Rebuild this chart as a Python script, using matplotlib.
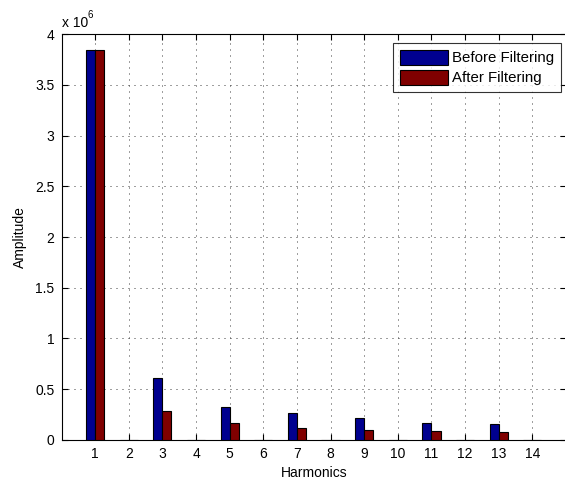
import matplotlib
matplotlib.use("Agg")
import matplotlib.pyplot as plt
import numpy as np

harmonics = [1, 2, 3, 4, 5, 6, 7, 8, 9, 10, 11, 12, 13, 14]
before = [3.85e6, 0, 0.606e6, 0, 0.326e6, 0, 0.26e6, 0, 0.21e6, 0, 0.165e6, 0, 0.152e6, 0]
after = [3.85e6, 0, 0.28e6, 0, 0.165e6, 0, 0.115e6, 0, 0.093e6, 0, 0.083e6, 0, 0.073e6, 0]
series_labels = ["Before Filtering", "After Filtering"]
yticks = [0, 0.5e6, 1e6, 1.5e6, 2e6, 2.5e6, 3e6, 3.5e6, 4e6]
ytick_labels = ["0", "0.5", "1", "1.5", "2", "2.5", "3", "3.5", "4"]

plt.rcParams['font.family'] = ['Liberation Sans', 'DejaVu Sans']

W, H = 565, 482
fig = plt.figure(figsize=(W / 100, H / 100), dpi=100)
left, right, bottom, top = 61.5, 566.0, 439.7, 34.3
ax = fig.add_axes([left / W, 1 - bottom / H, (right - left) / W, (bottom - top) / H])

x = np.array(harmonics, dtype=float)
bw = 0.27
blue = (0, 0, 0.5625)
red = (0.5, 0, 0)
ax.bar(x - bw / 2, before, width=bw, color=blue, edgecolor='black', linewidth=0.8, label=series_labels[0], zorder=3)
ax.bar(x + bw / 2, after, width=bw, color=red, edgecolor='black', linewidth=0.8, label=series_labels[1], zorder=3)

ax.set_xlim(0, 15)
ax.set_ylim(0, 4e6)
ax.set_xticks(harmonics)
ax.set_xticklabels([str(h) for h in harmonics])
ax.set_yticks(yticks)
ax.set_yticklabels(ytick_labels)
ax.tick_params(direction='in', length=4, width=0.8, top=True, right=True, labelsize=10, pad=5, colors='black')
ax.grid(True, color='#404040', linestyle=(0, (1, 5)), linewidth=0.72, zorder=0)
ax.set_axisbelow(True)
for s in ax.spines.values():
    s.set_linewidth(0.8)

ax.set_xlabel("Harmonics", fontsize=10, labelpad=4)
ax.set_ylabel("Amplitude", fontsize=10, labelpad=6)

fig.text(61.7 / W, 1 - 27 / H, "x 10", fontsize=10, ha='left', va='baseline')
fig.text(88 / W, 1 - 17.5 / H, "6", fontsize=7, ha='left', va='baseline')

leg = ax.legend(loc='upper right', bbox_to_anchor=(560.5 / W, 1 - 43.3 / H),
                bbox_transform=fig.transFigure, fancybox=False, frameon=True,
                edgecolor='black', fontsize=10.8, handlelength=3.2, handleheight=1.13,
                handletextpad=0.25, labelspacing=0.3, borderpad=0.45, borderaxespad=0)
leg.get_frame().set_linewidth(0.8)

fig.savefig("out.png", dpi=100, facecolor='white')
